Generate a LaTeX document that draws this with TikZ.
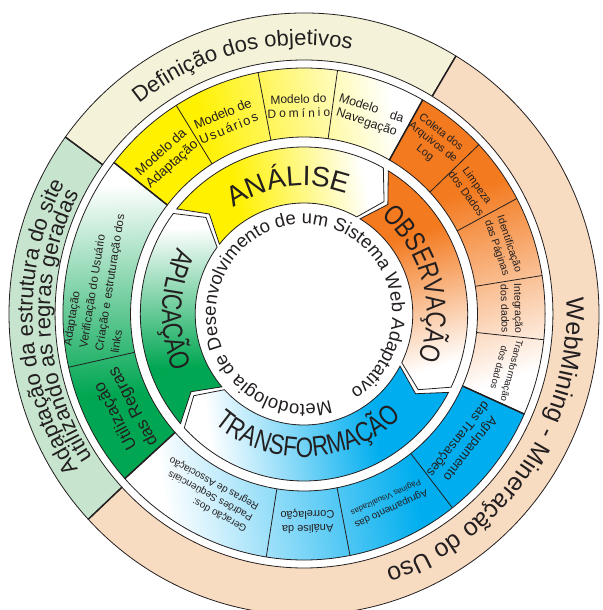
\documentclass[tikz,border=0pt]{standalone}
\usepackage{fontspec}
\setmainfont{Liberation Sans}
\newfontfamily\narrowsf[FakeStretch=0.8]{Liberation Sans}
\usetikzlibrary{decorations.text}
\definecolor{ink}{HTML}{231F20}
\definecolor{amarelo}{HTML}{FFF100}
\definecolor{laranja}{HTML}{F37A1F}
\definecolor{azul}{HTML}{00AEEF}
\definecolor{verde}{HTML}{00A651}
\definecolor{creme}{HTML}{F4F2D8}
\definecolor{pessego}{HTML}{F8DCC2}
\definecolor{verdeclaro}{HTML}{C7E5CE}
\pgfdeclareverticalshading{fadeamarelo}{100bp}{color(0bp)=(amarelo); color(38bp)=(amarelo); color(72bp)=(white); color(100bp)=(white)}
\pgfdeclareverticalshading{fadelaranja}{100bp}{color(0bp)=(laranja); color(38bp)=(laranja); color(72bp)=(white); color(100bp)=(white)}
\pgfdeclareverticalshading{fadeazul}{100bp}{color(0bp)=(azul); color(38bp)=(azul); color(72bp)=(white); color(100bp)=(white)}
\pgfdeclareverticalshading{fadeverde}{100bp}{color(0bp)=(verde); color(38bp)=(verde); color(72bp)=(white); color(100bp)=(white)}
% piece of a ring: start, end, inner radius, outer radius
\def\ringpart#1#2#3#4{(#1:#4) arc (#1:#2:#4) -- (#2:#3) arc (#2:#1:#3) -- cycle}
% arrow shaped piece of the inner ring
\def\band#1#2{(#1:167) arc (#1:#2:167) -- ({#2-7}:139) -- (#2:111) arc (#2:#1:111) -- ({#1-7}:139) -- cycle}
\tikzset{
  ringline/.style={draw=ink, line width=0.8pt},
  groupline/.style={draw=ink, line width=1.5pt},
  celltext/.style={align=center, inner sep=0pt, text=ink, font=\fontsize{12}{14}\selectfont},
  curvedtext/.style={decorate, decoration={text along path, text align=center, text color=ink, text={#1}}}
}

\begin{document}
\begin{tikzpicture}[x=1pt, y=1pt, xscale=0.98]
  \useasboundingbox (-310.2,-296) rectangle (304.1,314);
  % outer ring
  \fill[creme, ringline] \ringpart{144}{59}{254}{301};
  \fill[pessego, ringline] \ringpart{59}{-137}{254}{301};
  \fill[verdeclaro, ringline] \ringpart{-137}{-216}{254}{301};
  \foreach \a in {144,59,-137}
    \draw[groupline] (\a:254) -- (\a:301);

  % ring of the cells
  \shade[shading=fadeamarelo, shading angle=-79, ringline] \ringpart{142}{60.5}{177}{246};
  \shade[shading=fadelaranja, shading angle=-162, ringline] \ringpart{60.5}{-24}{177}{246};
  \shade[shading=fadeazul, shading angle=-261, ringline] \ringpart{-24}{-138}{177}{246};
  \shade[shading=fadeverde, shading angle=-358, ringline] \ringpart{-138}{-218}{177}{246};
  \foreach \a in {122,101,82,43.5,28,9,-6,-52,-79,-99,-167.5}
    \draw[ringline] (\a:177) -- (\a:246);
  \foreach \a in {142,60.5,-24,-138}
    \draw[groupline] (\a:177) -- (\a:246);

  % inner ring of arrows
  \shade[shading=fadeamarelo, shading angle=-79, ringline] \band{141}{61};
  \shade[shading=fadelaranja, shading angle=-163, ringline] \band{59}{-26};
  \shade[shading=fadeazul, shading angle=-262, ringline] \band{-28}{-137};
  \shade[shading=fadeverde, shading angle=-358, ringline] \band{-139}{-217};

  \path[curvedtext={|\fontsize{28}{30}\selectfont|ANÁLISE}] (147:128) arc (147:47:128);
  \path[curvedtext={|\narrowsf\fontsize{28}{30}\selectfont|OBSERVAÇÃO}] (65:125) arc (65:-35:125);
  \path[curvedtext={|\narrowsf\fontsize{28}{30}\selectfont|TRANSFORMAÇÃO}] (-138:143) arc (-138:-38:143);
  \path[curvedtext={|\narrowsf\fontsize{28}{30}\selectfont|APLICAÇÃO}] (128:145) arc (128:228:145);
  \path[curvedtext={|\fontsize{18.5}{20}\selectfont|Metodologia de Desenvolvimento de um Sistema Web Adaptativo}]
    (-65.5:90) arc (-65.5:-425.5:90);

  \path[curvedtext={|\fontsize{22}{24}\selectfont|Definição dos objetivos}] (164:269) arc (164:44:269);
  \path[curvedtext={|\fontsize{25}{27}\selectfont|WebMining - Mineração do Uso}] (40:268) arc (40:-109:268);
  \path[curvedtext={|\fontsize{22}{24}\selectfont|Adaptação da estrutura do site}] (243:277) arc (243:123:277);
  \path[curvedtext={|\fontsize{22}{24}\selectfont|utilizando as regras geradas}] (243:259) arc (243:123:259);

  \node[celltext, rotate=42, font=\fontsize{13.5}{16}\selectfont] (adaptacao) at (132:209) {Modelo da\\Adaptação};
  \node[celltext, rotate=22.5, font=\fontsize{13}{15.5}\selectfont] (usuarios) at (112.5:209)
    {Modelo de\\{\addfontfeature{LetterSpace=12}Usuários}};
  \node[celltext, rotate=1.5] (dominio) at (91.5:208) {Modelo do\\{\addfontfeature{LetterSpace=25}Domínio}};
  \node[celltext, rotate=-18.5, font=\fontsize{12.5}{15}\selectfont] (navegacao) at (71.5:209) {Modelo\quad da\\Navegação};
  \node[celltext, rotate=-38, font=\fontsize{11}{13}\selectfont] (coleta) at (52.5:216) {Coleta dos\\Arquivos de\\Log};
  \node[celltext, rotate=-54, font=\fontsize{11}{13.5}\selectfont] (limpeza) at (36:212) {Limpeza\\dos Dados};
  \node[celltext, rotate=-71.5, font=\fontsize{10.5}{13}\selectfont] (identificacao) at (18.5:214) {Identificação\\das Páginas};
  \node[celltext, rotate=-88.5, font=\fontsize{10.5}{13.5}\selectfont] (integracao) at (1.5:212) {Integração\\dos dados};
  \node[celltext, rotate=-105, font=\fontsize{9.5}{13}\selectfont] (transformacao) at (-15:213) {Transformação\\dos dados};
  \node[celltext, rotate=-128.5, font=\fontsize{13}{15.5}\selectfont] (agrupTrans) at (-38.5:208) {Agrupamento\\das Transações};
  \node[celltext, rotate=-155.5, font=\fontsize{10}{12}\selectfont] (agrupPag) at (-65.5:208)
    {Agrupamento das\\{\fontsize{8}{10}\selectfont Páginas Visualizadas}};
  \node[celltext, rotate=-179, font=\fontsize{11}{14}\selectfont] (correlacao) at (-89:207) {Análise da\\Correlação};
  \node[celltext, rotate=-208.5, align=left, font=\fontsize{10}{12.5}\selectfont] (geracao) at (-118.5:205)
    {Geração dos:\\Padrões Seqüenciais\\Regras de Associação};
  \node[celltext, rotate=-242, font=\fontsize{17}{20}\selectfont] (utilizacao) at (-152:207) {Utilização\\das Regras};
  \node[celltext, rotate=81, align=left, font=\fontsize{11.5}{16}\selectfont] (verificacao) at (171:209)
    {Adaptação\\Verificação do Usuário\\Criação e estruturação dos\\links};
\end{tikzpicture}
\end{document}
